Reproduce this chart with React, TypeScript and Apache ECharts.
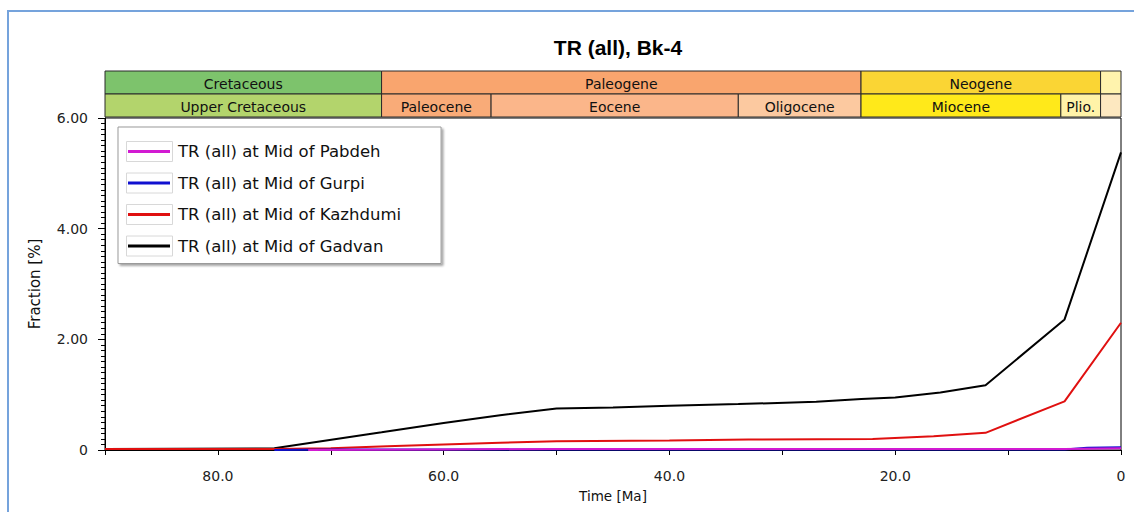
import React, { useEffect, useRef } from "react";
import * as echarts from "echarts";

// ---------- data ----------
const titleText = "TR (all), Bk-4";
const seriesNames = [
  "TR (all) at Mid of Pabdeh",
  "TR (all) at Mid of Gurpi",
  "TR (all) at Mid of Kazhdumi",
  "TR (all) at Mid of Gadvan",
];
// [time Ma, fraction %]
const pabdeh: [number, number][] = [
  [72, 0.0], [60, 0.01], [50, 0.02], [40, 0.02], [30, 0.02], [20, 0.02], [10, 0.02], [5, 0.02], [0, 0.03],
];
const gurpi: [number, number][] = [
  [75, 0.0], [70, 0.01], [60, 0.01], [50, 0.01], [40, 0.01], [20, 0.01], [5, 0.01], [3, 0.04], [0, 0.05],
];
const kazhdumi: [number, number][] = [
  [90, 0.02], [75, 0.02], [70, 0.03], [65, 0.07], [60, 0.1], [55, 0.13], [50, 0.16], [40, 0.17],
  [33, 0.19], [22, 0.2], [16.6, 0.25], [12, 0.31], [5, 0.88], [0, 2.3],
];
const gadvan: [number, number][] = [
  [90, 0.02], [75, 0.03], [65.5, 0.32], [60, 0.49], [55, 0.63], [50, 0.75], [45, 0.77], [40, 0.8],
  [33.9, 0.83], [27, 0.87], [23, 0.92], [20, 0.95], [16, 1.04], [12, 1.17], [5, 2.36], [0, 5.38],
];

const upperNames = ["Cretaceous", "Paleogene", "Neogene", ""];
const upperBounds = [90, 65.5, 23.03, 1.81, 0];
const lowerNames = ["Upper Cretaceous", "Paleocene", "Eocene", "Oligocene", "Miocene", "Plio.", ""];
const lowerBounds = [90, 65.5, 55.8, 33.9, 23.03, 5.33, 1.81, 0];

const xAxisMin = 0;
const xAxisMax = 90;
const xTickStep = 10;
const xLabelStep = 20;
const yAxisMin = 0;
const yAxisMax = 6;
const yTickStep = 2;

// ---------- styles ----------
const lineColors = ["#d21ad2", "#1010d0", "#e01010", "#000000"];
const upperColors = ["#7dc36c", "#f9a56e", "#fad534", "#fff3ad"];
const lowerColors = ["#b3d46c", "#f9ab78", "#fbb68a", "#fcc9a0", "#ffe91a", "#fff3a8", "#fde8c0"];

const FONT = '"DejaVu Sans", Verdana, sans-serif';

export default function App() {
  const ref = useRef<HTMLDivElement>(null);

  useEffect(() => {
    document.body.style.margin = "0";
    const chart = echarts.init(ref.current!, null, { renderer: "svg" });

    const strata: any[] = [];
    const strataColors: string[] = [];
    upperNames.forEach((n, i) => {
      strata.push({ value: [upperBounds[i], upperBounds[i + 1], 1], name: n });
      strataColors.push(upperColors[i]);
    });
    lowerNames.forEach((n, i) => {
      strata.push({ value: [lowerBounds[i], lowerBounds[i + 1], 0], name: n });
      strataColors.push(lowerColors[i]);
    });

    const fmtX = (v: number) => (v === 0 ? "0" : v % xLabelStep === 0 && v < xAxisMax ? v.toFixed(1) : "");
    const fmtY = (v: number) => (v === 0 ? "0" : v.toFixed(2));

    const lineData = [pabdeh, gurpi, kazhdumi, gadvan];

    // decorative frames around the legend line samples
    const sampleFrames = seriesNames.map((_, i) => ({
      type: "rect",
      z: 200,
      silent: true,
      shape: { x: 126.5, y: 141.5 + i * 31.5, width: 46, height: 20 },
      style: { fill: "none", stroke: "#d8d8d8", lineWidth: 1 },
    }));

    chart.setOption({
      animation: false,
      backgroundColor: "#ffffff",
      title: {
        text: titleText,
        left: 613,
        top: 32,
        textAlign: "center",
        textStyle: { fontFamily: '"Liberation Sans", Arial, sans-serif', fontWeight: "bold", fontSize: 21, color: "#000" },
      },
      graphic: [
        {
          type: "rect",
          z: -10,
          silent: true,
          shape: { x: 8, y: 11, width: 1140, height: 520 },
          style: { fill: "none", stroke: "#75a3dc", lineWidth: 2 },
        },
        ...sampleFrames,
      ],
      legend: {
        orient: "vertical",
        left: 118,
        top: 127,
        data: seriesNames,
        icon: "rect",
        itemWidth: 42,
        itemHeight: 3,
        itemGap: 14.5,
        padding: [16, 40, 9, 10],
        backgroundColor: "#ffffff",
        borderColor: "#9a9a9a",
        borderWidth: 1,
        shadowColor: "rgba(0,0,0,0.35)",
        shadowOffsetX: 2,
        shadowOffsetY: 2,
        shadowBlur: 2,
        textStyle: { fontFamily: FONT, fontSize: 16.5, color: "#111", padding: [0, 0, 0, 3] },
      },
      grid: [
        { left: 105, right: 13, top: 118, bottom: 62, show: true, borderColor: "#000", borderWidth: 1, backgroundColor: "transparent" },
        { left: 105, right: 13, top: 71, height: 46 },
      ],
      xAxis: [
        {
          type: "value",
          gridIndex: 0,
          position: "bottom",
          min: xAxisMin,
          max: xAxisMax,
          interval: xTickStep,
          inverse: true,
          name: "Time [Ma]",
          nameLocation: "middle",
          nameGap: 39,
          nameTextStyle: { fontFamily: FONT, fontSize: 13.5, color: "#111" },
          axisLine: { onZero: false, lineStyle: { color: "#000", width: 1 } },
          axisTick: { length: 5, lineStyle: { color: "#000" } },
          axisLabel: { formatter: fmtX, fontFamily: FONT, fontSize: 14, color: "#222", margin: 19 },
          splitLine: { show: false },
        },
        {
          type: "value",
          gridIndex: 1,
          min: xAxisMin,
          max: xAxisMax,
          inverse: true,
          show: false,
        },
      ],
      yAxis: [
        {
          type: "value",
          gridIndex: 0,
          position: "left",
          offset: 0,
          min: yAxisMin,
          max: yAxisMax,
          interval: yTickStep,
          name: "Fraction [%]",
          nameLocation: "middle",
          nameGap: 63,
          nameRotate: 90,
          nameTextStyle: { fontFamily: FONT, fontSize: 15, color: "#111" },
          axisLine: { show: true, onZero: false, lineStyle: { color: "#000", width: 1 } },
          axisTick: { show: true, inside: false, length: 7, lineStyle: { color: "#000" } },
          minorTick: { show: true, splitNumber: 20, length: 4, lineStyle: { color: "#000" } },
          axisLabel: { formatter: fmtY, fontFamily: FONT, fontSize: 14, color: "#222", margin: 17 },
          splitLine: { show: false },
          minorSplitLine: { show: false },
        },
        { type: "value", gridIndex: 1, min: 0, max: 2, show: false },
      ],
      series: [
        ...lineData.map((d, i) => ({
          type: "line",
          name: seriesNames[i],
          data: d,
          xAxisIndex: 0,
          yAxisIndex: 0,
          symbol: "none",
          color: lineColors[i],
          lineStyle: { width: 2, color: lineColors[i] },
          z: 10 - i,
        })),
        {
          type: "custom",
          xAxisIndex: 1,
          yAxisIndex: 1,
          data: strata,
          silent: true,
          renderItem: (params: any, api: any) => {
            const s = api.value(0);
            const e = api.value(1);
            const row = api.value(2);
            const a = api.coord([s, row + 1]);
            const b = api.coord([e, row]);
            const x = Math.min(a[0], b[0]);
            const y = Math.min(a[1], b[1]);
            const w = Math.abs(b[0] - a[0]);
            const h = Math.abs(b[1] - a[1]);
            const name = strata[params.dataIndex].name;
            return {
              type: "group",
              children: [
                {
                  type: "rect",
                  shape: { x, y, width: w, height: h },
                  style: { fill: strataColors[params.dataIndex], stroke: "#2a2a2a", lineWidth: 1 },
                },
                {
                  type: "text",
                  style: {
                    text: name,
                    x: x + w / 2,
                    y: y + h / 2 + 1,
                    align: "center",
                    verticalAlign: "middle",
                    fontFamily: FONT,
                    fontSize: 14,
                    fill: "#111",
                  },
                },
              ],
            };
          },
        },
      ],
    });

    return () => chart.dispose();
  }, []);

  return <div ref={ref} style={{ width: 1134, height: 512 }} />;
}
